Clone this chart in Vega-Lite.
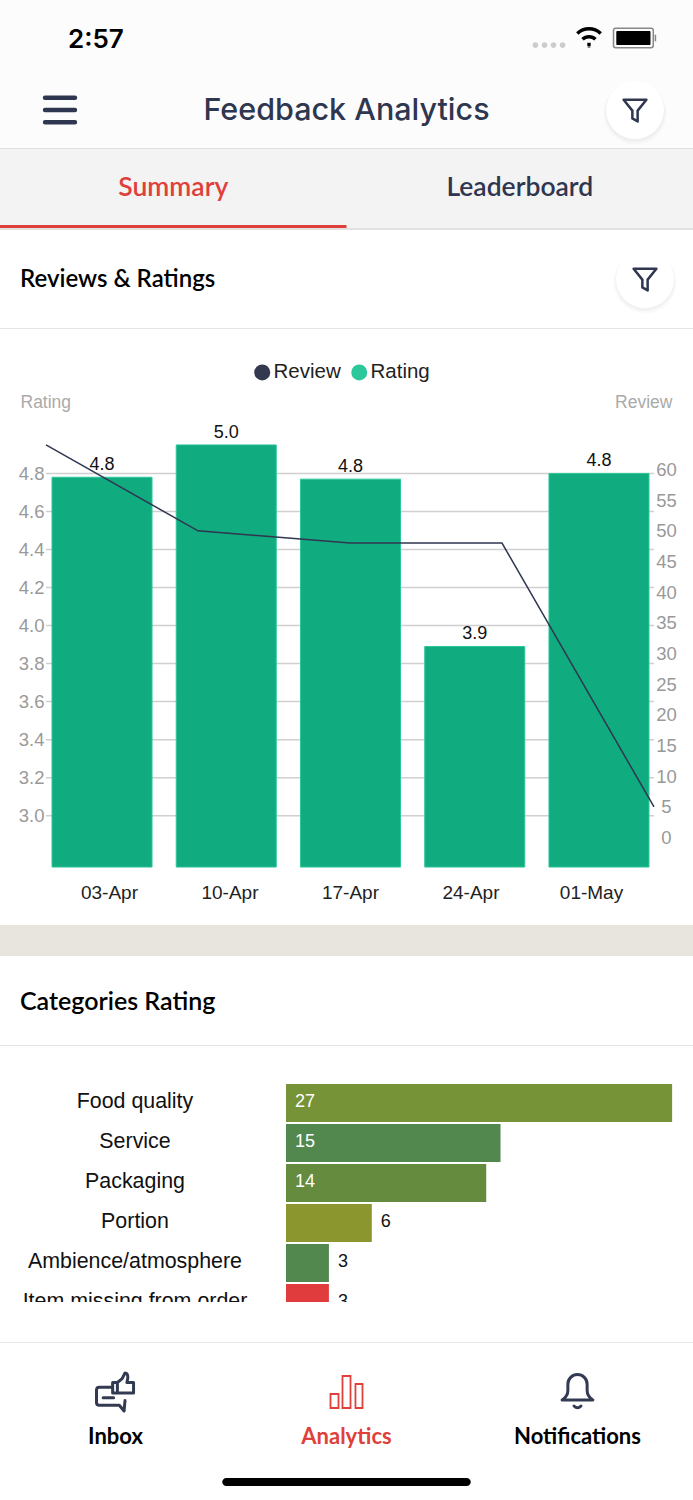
{
  "$schema": "https://vega.github.io/schema/vega-lite/v6.json",
  "padding": 0,
  "background": "white",
  "spacing": 0,
  "bounds": "flush",
  "resolve": {"scale": {"color": "independent"}},
  "datasets": {
    "weekly": [
      {"week": "03-Apr", "rating": 4.78, "rating_label": "4.8", "review": 64},
      {"week": "10-Apr", "rating": 4.95, "rating_label": "5.0", "review": 50},
      {"week": "17-Apr", "rating": 4.77, "rating_label": "4.8", "review": 48},
      {"week": "24-Apr", "rating": 3.89, "rating_label": "3.9", "review": 48},
      {"week": "01-May", "rating": 4.8, "rating_label": "4.8", "review": 5}
    ],
    "rating_ticks": [
      {"tick": 3}, {"tick": 3.2}, {"tick": 3.4}, {"tick": 3.6}, {"tick": 3.8},
      {"tick": 4}, {"tick": 4.2}, {"tick": 4.4}, {"tick": 4.6}, {"tick": 4.8}
    ],
    "categories": [
      {"category": "Food quality", "count": 27},
      {"category": "Service", "count": 15},
      {"category": "Packaging", "count": 14},
      {"category": "Portion", "count": 6},
      {"category": "Ambience/atmosphere", "count": 3},
      {"category": "Item missing from order", "count": 3}
    ]
  },
  "config": {
    "view": {"stroke": null},
    "font": "Liberation Sans",
    "text": {"font": "Liberation Sans"}
  },
  "vconcat": [
    {
      "width": 693,
      "height": 76,
      "view": {"fill": "#fcfcfc"},
      "resolve": {"scale": {"x": "independent"}},
      "encoding": {
        "x": {"field": "slot", "type": "nominal", "axis": null, "scale": {"type": "point", "domain": ["signal", "wifi", "battery"], "range": [549, 635], "padding": 0}}
      },
      "layer": [
        {
          "data": {"values": [{"slot": "time", "text": "2:57"}]},
          "mark": {"type": "text", "align": "left", "font": "Inter", "fontSize": 26, "fontWeight": 600, "color": "#000000", "dy": 2},
          "encoding": {
            "x": {"field": "slot", "type": "nominal", "axis": null, "scale": {"type": "point", "domain": ["time", "end"], "range": [68, 693], "padding": 0}},
            "text": {"field": "text"}
          }
        },
        {
          "data": {"values": [{"slot": "signal"}]},
          "mark": {"type": "point", "filled": true, "opacity": 1, "color": "#cccccc", "size": 1024, "shape": "M-1.03 .44A.18 .18 0 1 0 -.67 .44A.18 .18 0 1 0 -1.03 .44ZM-.46 .44A.18 .18 0 1 0 -.1 .44A.18 .18 0 1 0 -.46 .44ZM.1 .44A.18 .18 0 1 0 .46 .44A.18 .18 0 1 0 .1 .44ZM.67 .44A.18 .18 0 1 0 1.03 .44A.18 .18 0 1 0 .67 .44Z"}
        },
        {
          "data": {"values": [{"slot": "wifi"}]},
          "mark": {"type": "point", "filled": false, "opacity": 1, "color": "#000000", "strokeWidth": 3.5, "size": 676, "shape": "M-1.13 -.35A1.3 1.3 0 0 1 .67 -.35M-.73 .1A.72 .72 0 0 1 .27 .1M-.36 .5L-.1 .5M-.26 .62L-.2 .62M-.23 .7L-.23 .72"}
        },
        {
          "data": {"values": [{"slot": "battery"}]},
          "mark": {"type": "point", "filled": false, "opacity": 1, "color": "#888888", "strokeWidth": 1.5, "size": 1849, "shape": "M-.9 -.45L.75 -.45A.1 .1 0 0 1 .85 -.35L.85 .35A.1 .1 0 0 1 .75 .45L-.9 .45A.1 .1 0 0 1 -1 .35L-1 -.35A.1 .1 0 0 1 -.9 -.45ZM.95 -.15L.95 .15"}
        },
        {
          "data": {"values": [{"slot": "battery"}]},
          "mark": {"type": "point", "filled": true, "opacity": 1, "color": "#000000", "size": 1849, "shape": "M-.82 -.33L.67 -.33A.05 .05 0 0 1 .72 -.28L.72 .28A.05 .05 0 0 1 .67 .33L-.82 .33A.05 .05 0 0 1 -.87 .28L-.87 -.28A.05 .05 0 0 1 -.82 -.33Z"}
        }
      ]
    },
    {
      "width": 693,
      "height": 68,
      "view": {"fill": "#fcfcfc"},
      "encoding": {
        "x": {"field": "slot", "type": "nominal", "axis": null, "scale": {"type": "point", "domain": ["menu", "title", "filter"], "range": [60, 635], "padding": 0}}
      },
      "layer": [
        {
          "data": {"values": [{"slot": "menu"}]},
          "mark": {"type": "point", "filled": false, "opacity": 1, "color": "#2f3650", "strokeWidth": 4.5, "strokeCap": "round", "size": 1156, "shape": "M-.88 -.72L.88 -.72M-.88 0L.88 0M-.88 .72L.88 .72"}
        },
        {
          "data": {"values": [{"slot": "title", "text": "Feedback Analytics"}]},
          "mark": {"type": "text", "font": "Inter", "fontSize": 30.5, "fontWeight": 500, "color": "#2f3650", "dx": -1, "dy": 1},
          "encoding": {"text": {"field": "text"}}
        },
        {
          "data": {"values": [{"slot": "filter"}]},
          "mark": {"type": "point", "filled": true, "shape": "circle", "color": "#000000", "opacity": 0.02, "size": 4000, "yOffset": 3}
        },
        {
          "data": {"values": [{"slot": "filter"}]},
          "mark": {"type": "point", "filled": true, "shape": "circle", "color": "#000000", "opacity": 0.03, "size": 3600, "yOffset": 2}
        },
        {
          "data": {"values": [{"slot": "filter"}]},
          "mark": {"type": "point", "filled": true, "shape": "circle", "color": "#ffffff", "opacity": 1, "size": 3364}
        },
        {
          "data": {"values": [{"slot": "filter"}]},
          "mark": {"type": "point", "filled": false, "opacity": 1, "color": "#2f3650", "strokeWidth": 2.5, "strokeJoin": "round", "size": 576, "shape": "M-.95 -.85L.95 -.85L.22 .05L.22 .95L-.22 .7L-.22 .05Z"}
        }
      ]
    },
    {"width": 693, "height": 4, "view": {"fill": "#fcfcfc"}, "data": {"values": []}, "mark": "rect"},
    {"width": 693, "height": 1, "view": {"fill": "#dfdfdf"}, "data": {"values": []}, "mark": "rect"},
    {
      "width": 693,
      "height": 76,
      "view": {"fill": "#f3f3f3"},
      "data": {"values": [{"tab": "Summary"}, {"tab": "Leaderboard"}]},
      "mark": {"type": "text", "font": "Lato", "fontSize": 26.5, "fontWeight": 600, "dy": 1},
      "encoding": {
        "x": {"field": "tab", "type": "nominal", "axis": null, "scale": {"type": "band", "domain": ["Summary", "Leaderboard"]}},
        "text": {"field": "tab"},
        "color": {"field": "tab", "type": "nominal", "legend": null, "scale": {"domain": ["Summary", "Leaderboard"], "range": ["#e0403a", "#2f3650"]}}
      }
    },
    {
      "width": 693,
      "height": 3,
      "view": {"fill": "#f3f3f3"},
      "data": {"values": [{"tab": "Summary"}]},
      "mark": {"type": "rect", "color": "#e0403a"},
      "encoding": {
        "x": {"field": "tab", "type": "nominal", "axis": null, "scale": {"type": "band", "domain": ["Summary", "Leaderboard"], "padding": 0}}
      }
    },
    {"width": 693, "height": 2, "view": {"fill": "#e2e2e2"}, "data": {"values": []}, "mark": "rect"},
    {
      "width": 693,
      "height": 98,
      "encoding": {
        "x": {"field": "slot", "type": "nominal", "axis": null, "scale": {"type": "point", "domain": ["title", "filter"], "range": [20, 645], "padding": 0}}
      },
      "layer": [
        {
          "data": {"values": [{"slot": "title", "text": "Reviews & Ratings"}]},
          "mark": {"type": "text", "align": "left", "font": "Lato", "fontSize": 24, "fontWeight": 600, "color": "#000000", "dy": 1},
          "encoding": {"text": {"field": "text"}}
        },
        {
          "data": {"values": [{"slot": "filter"}]},
          "mark": {"type": "point", "filled": true, "shape": "circle", "color": "#000000", "opacity": 0.02, "size": 4000, "yOffset": 3}
        },
        {
          "data": {"values": [{"slot": "filter"}]},
          "mark": {"type": "point", "filled": true, "shape": "circle", "color": "#000000", "opacity": 0.03, "size": 3600, "yOffset": 2}
        },
        {
          "data": {"values": [{"slot": "filter"}]},
          "mark": {"type": "point", "filled": true, "shape": "circle", "color": "#ffffff", "opacity": 1, "size": 3364}
        },
        {
          "data": {"values": [{"slot": "filter"}]},
          "mark": {"type": "point", "filled": false, "opacity": 1, "color": "#2f3650", "strokeWidth": 2.5, "strokeJoin": "round", "size": 576, "shape": "M-.95 -.85L.95 -.85L.22 .05L.22 .95L-.22 .7L-.22 .05Z"}
        }
      ]
    },
    {"width": 693, "height": 1, "view": {"fill": "#e4e4e4"}, "data": {"values": []}, "mark": "rect"},
    {
      "width": 693,
      "height": 538,
      "resolve": {"scale": {"x": "independent", "y": "independent"}, "axis": {"x": "independent", "y": "independent"}},
      "layer": [
        {
          "data": {"name": "rating_ticks"},
          "mark": {"type": "rule", "color": "#d0d0d0", "strokeWidth": 1.5},
          "encoding": {
            "x": {"datum": "03-Apr", "type": "ordinal", "axis": null, "scale": {"type": "point", "domain": ["03-Apr", "10-Apr", "17-Apr", "24-Apr", "01-May"], "range": [46, 654], "padding": 0}},
            "x2": {"datum": "01-May"},
            "y": {"field": "tick", "type": "quantitative", "axis": null, "scale": {"domain": [2.726, 4.947], "range": [538.8, 116.5], "nice": false, "zero": false}}
          }
        },
        {
          "data": {"name": "weekly"},
          "encoding": {
            "x": {"field": "week", "type": "ordinal", "axis": null, "scale": {"type": "band", "domain": ["03-Apr", "10-Apr", "17-Apr", "24-Apr", "01-May"], "range": [52, 649], "paddingInner": 0.195, "paddingOuter": 0}},
            "y": {
              "field": "rating",
              "type": "quantitative",
              "scale": {"domain": [2.726, 4.947], "range": [538.8, 116.5], "nice": false, "zero": false},
              "axis": {
                "orient": "left",
                "offset": -46,
                "title": "Rating",
                "titleAngle": 0,
                "titleAlign": "left",
                "titleBaseline": "middle",
                "titleX": -26,
                "titleY": 73,
                "titleFontSize": 17.5,
                "titleFontWeight": "normal",
                "titleColor": "#aaaaaa",
                "values": [3, 3.2, 3.4, 3.6, 3.8, 4, 4.2, 4.4, 4.6, 4.8],
                "format": ".1f",
                "labelFontSize": 18.5,
                "labelColor": "#999999",
                "labelPadding": 2,
                "ticks": false,
                "domain": false,
                "grid": false
              }
            }
          },
          "layer": [
            {
              "mark": {"type": "bar", "fill": "#10ab7e", "stroke": "#2cc79a", "strokeWidth": 1},
              "encoding": {"y2": {"datum": 2.73}}
            },
            {
              "mark": {"type": "text", "baseline": "bottom", "dy": -3, "fontSize": 18, "color": "#111111"},
              "encoding": {"text": {"field": "rating_label"}}
            }
          ]
        },
        {
          "data": {"name": "weekly"},
          "mark": {"type": "line", "color": "#2f3650", "strokeWidth": 1.5},
          "encoding": {
            "x": {"field": "week", "type": "ordinal", "axis": null, "scale": {"type": "point", "domain": ["03-Apr", "10-Apr", "17-Apr", "24-Apr", "01-May"], "range": [46, 654], "padding": 0}},
            "y": {
              "field": "review",
              "type": "quantitative",
              "scale": {"domain": [0, 60], "range": [508.5, 140.5], "nice": false},
              "axis": {
                "orient": "right",
                "offset": -39,
                "title": "Review",
                "titleAngle": 0,
                "titleAlign": "right",
                "titleBaseline": "middle",
                "titleX": 18,
                "titleY": 73,
                "titleFontSize": 17.5,
                "titleFontWeight": "normal",
                "titleColor": "#aaaaaa",
                "values": [0, 5, 10, 15, 20, 25, 30, 35, 40, 45, 50, 55, 60],
                "labelFontSize": 18.5,
                "labelColor": "#999999",
                "labelAlign": "center",
                "labelPadding": 12,
                "ticks": false,
                "domain": false,
                "grid": false
              }
            }
          }
        },
        {
          "data": {"name": "weekly"},
          "mark": {"type": "text", "text": ""},
          "encoding": {
            "x": {
              "field": "week",
              "type": "ordinal",
              "scale": {"type": "point", "domain": ["03-Apr", "10-Apr", "17-Apr", "24-Apr", "01-May"], "range": [109, 591], "padding": 0},
              "axis": {"orient": "bottom", "title": null, "labelAngle": 0, "labelFontSize": 19, "labelColor": "#222222", "labelPadding": 16, "ticks": false, "domain": false, "grid": false}
            }
          }
        },
        {
          "data": {"values": [{"series": "Review"}, {"series": "Rating"}]},
          "mark": {"type": "point", "filled": true, "size": 0, "shape": "circle"},
          "encoding": {
            "color": {
              "field": "series",
              "type": "nominal",
              "scale": {"domain": ["Review", "Rating"], "range": ["#33394f", "#2cc79a"]},
              "legend": {
                "title": null,
                "orient": "none",
                "direction": "horizontal",
                "legendX": 252,
                "legendY": 33,
                "symbolType": "circle",
                "symbolSize": 256,
                "symbolOpacity": 1,
                "labelFontSize": 20.5,
                "labelColor": "#222222",
                "labelOffset": 1,
                "columnPadding": 8
              }
            }
          }
        }
      ]
    },
    {"width": 693, "height": 58, "data": {"values": []}, "mark": "rect"},
    {"width": 693, "height": 31, "view": {"fill": "#e8e5df"}, "data": {"values": []}, "mark": "rect"},
    {
      "width": 693,
      "height": 89,
      "data": {"values": [{"slot": "title", "text": "Categories Rating"}]},
      "mark": {"type": "text", "align": "left", "font": "Lato", "fontSize": 25, "fontWeight": 600, "color": "#000000", "dy": 1},
      "encoding": {
        "x": {"field": "slot", "type": "nominal", "axis": null, "scale": {"type": "point", "domain": ["title", "filter"], "range": [20, 645], "padding": 0}},
        "text": {"field": "text"}
      }
    },
    {"width": 693, "height": 1, "view": {"fill": "#e4e4e4"}, "data": {"values": []}, "mark": "rect"},
    {
      "width": 693,
      "height": 256,
      "data": {"name": "categories"},
      "encoding": {
        "y": {"field": "category", "type": "nominal", "sort": null, "axis": null, "scale": {"type": "band", "domain": ["Food quality", "Service", "Packaging", "Portion", "Ambience/atmosphere", "Item missing from order"], "range": [38, 276], "paddingInner": 0.05, "paddingOuter": 0}}
      },
      "layer": [
        {
          "mark": {"type": "bar", "clip": true},
          "encoding": {
            "x": {"field": "count", "type": "quantitative", "axis": null, "scale": {"domain": [-20, 28.46], "nice": false, "zero": false}},
            "x2": {"datum": 0},
            "color": {
              "field": "category",
              "type": "nominal",
              "legend": null,
              "scale": {"domain": ["Food quality", "Service", "Packaging", "Portion", "Ambience/atmosphere", "Item missing from order"], "range": ["#779338", "#52884e", "#648b3e", "#8b962f", "#52884e", "#e03c3e"]}
            }
          }
        },
        {
          "mark": {"type": "text", "clip": true, "fontSize": 21.4, "color": "#111111", "dy": -1},
          "encoding": {
            "x": {"datum": -10.56},
            "text": {"field": "category"}
          }
        },
        {
          "transform": [{"filter": "datum.count >= 10"}],
          "mark": {"type": "text", "clip": true, "align": "left", "fontSize": 18, "color": "#ffffff", "dx": 9, "dy": -1},
          "encoding": {
            "x": {"datum": 0},
            "text": {"field": "count"}
          }
        },
        {
          "transform": [{"filter": "datum.count < 10"}],
          "mark": {"type": "text", "clip": true, "align": "left", "fontSize": 18, "color": "#111111", "dx": 9, "dy": -1},
          "encoding": {
            "x": {"field": "count", "type": "quantitative"},
            "text": {"field": "count"}
          }
        }
      ]
    },
    {"width": 693, "height": 40, "data": {"values": []}, "mark": "rect"},
    {"width": 693, "height": 1, "view": {"fill": "#e8e8e8"}, "data": {"values": []}, "mark": "rect"},
    {
      "width": 693,
      "height": 157,
      "encoding": {
        "x": {"field": "tab", "type": "nominal", "axis": null, "scale": {"type": "band", "domain": ["Inbox", "Analytics", "Notifications"]}},
        "y": {"field": "row", "type": "nominal", "axis": null, "scale": {"type": "point", "domain": ["icon", "label", "home"], "range": [49, 139], "padding": 0}}
      },
      "layer": [
        {
          "data": {"values": [{"tab": "Inbox", "row": "icon"}]},
          "mark": {"type": "point", "filled": false, "opacity": 1, "color": "#333b52", "strokeWidth": 3, "strokeJoin": "round", "strokeCap": "round", "size": 1444, "shape": "M-.2 -.25L-.85 -.25Q-1 -.25 -1 -.1L-1 .55Q-1 .7 -.85 .7L.2 .7L.45 1L.5 .45M-.65 .3L-.1 .3M.1 -.5L.35 -.7L.5 -1Q.65 -1 .65 -.75L.6 -.5L.95 -.5L.95 .05L.1 .05ZM.1 -.5L-.15 -.5L-.15 .05L.1 .05"}
        },
        {
          "data": {"values": [{"tab": "Analytics", "row": "icon"}]},
          "mark": {"type": "point", "filled": false, "opacity": 1, "color": "#e0403a", "strokeWidth": 1.8, "size": 1024, "shape": "M-1 1L-1 .125L-.5 .125L-.5 1ZM-.25 1L-.25 -1L.25 -1L.25 1ZM.56 1L.56 -.5L1 -.5L1 1Z"}
        },
        {
          "data": {"values": [{"tab": "Notifications", "row": "icon"}]},
          "mark": {"type": "point", "filled": false, "opacity": 1, "color": "#333b52", "strokeWidth": 3, "strokeJoin": "round", "strokeCap": "round", "size": 1225, "shape": "M-.88 .46Q-.55 .25 -.55 -.1L-.55 -.45A.55 .55 0 0 1 .55 -.45L.55 -.1Q.55 .25 .88 .46ZM-.2 .8Q0 1 .2 .8"}
        },
        {
          "data": {"values": [{"tab": "Inbox", "row": "label"}, {"tab": "Analytics", "row": "label"}, {"tab": "Notifications", "row": "label"}]},
          "mark": {"type": "text", "font": "Lato", "fontSize": 22, "fontWeight": 700},
          "encoding": {
            "text": {"field": "tab"},
            "color": {"field": "tab", "type": "nominal", "legend": null, "scale": {"domain": ["Inbox", "Analytics", "Notifications"], "range": ["#000000", "#e0403a", "#000000"]}}
          }
        },
        {
          "data": {"values": [{"tab": "Analytics", "row": "home"}]},
          "mark": {"type": "point", "filled": true, "opacity": 1, "color": "#000000", "size": 61504, "shape": "M-.97 -.032L.97 -.032A.032 .032 0 0 1 .97 .032L-.97 .032A.032 .032 0 0 1 -.97 -.032Z"}
        }
      ]
    }
  ]
}
